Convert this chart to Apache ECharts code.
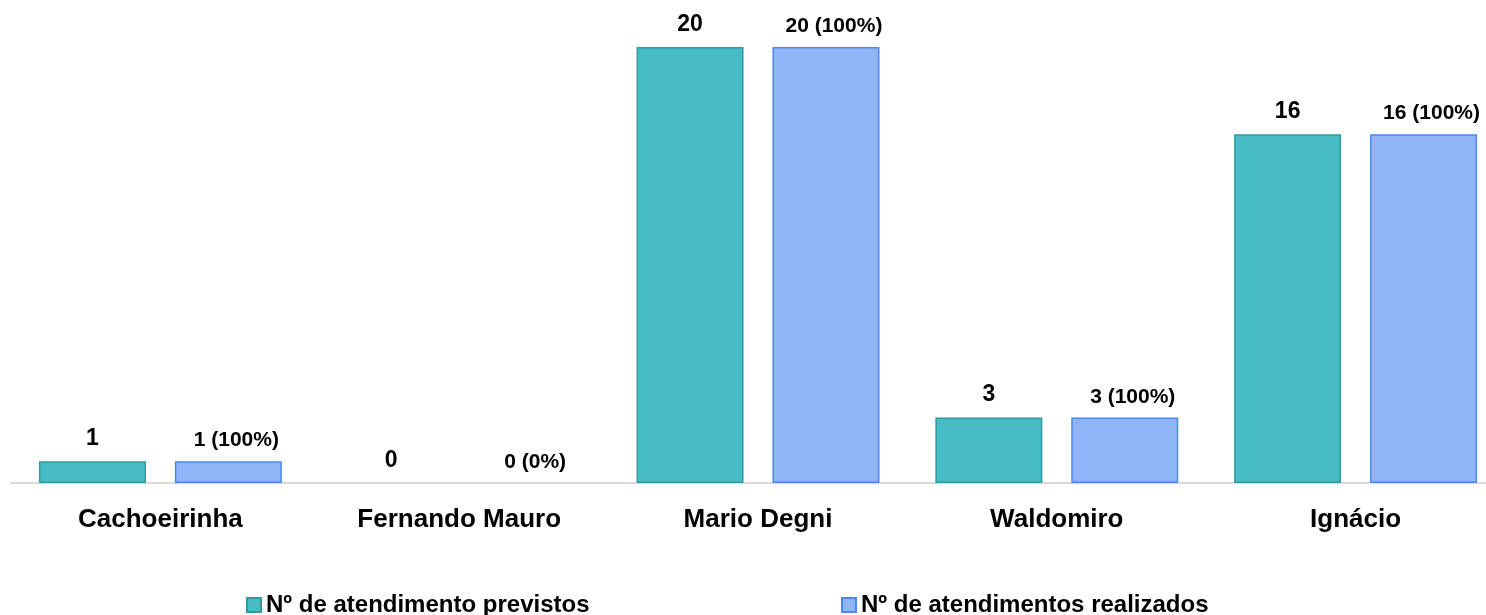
<!DOCTYPE html>
<html>
<head>
<meta charset="utf-8">
<script src="https://cdn.jsdelivr.net/npm/echarts@6/dist/echarts.min.js"></script>
<style>
html,body{margin:0;padding:0;background:#fff;overflow:hidden;width:1486px;height:615px;}
#chart{width:1506px;height:615px;}
</style>
</head>
<body>
<div id="chart"></div>
<script>
const categories = ['Cachoeirinha', 'Fernando Mauro', 'Mario Degni', 'Waldomiro', 'Ignácio'];
const previstos = [1, 0, 20, 3, 16];
const realizados = [1, 0, 20, 3, 16];
const realizadosPct = [100, 0, 100, 100, 100];
const seriesNames = ['Nº de atendimento previstos', 'Nº de atendimentos realizados'];

const FONT = '"Liberation Sans", Arial, sans-serif';
const tealFill = '#47BCC5', tealBorder = '#2F9A9F';
const blueFill = '#8FB5F8', blueBorder = '#4A88F0';

function toData(arr) {
  return arr.map(v => v === 0 ? { value: 0, itemStyle: { borderWidth: 0 } } : v);
}

const chart = echarts.init(document.getElementById('chart'), null, { renderer: 'canvas' });
chart.setOption({
  animation: false,
  backgroundColor: '#ffffff',
  textStyle: { fontFamily: FONT },
  grid: { left: 11, top: 47, right: 1, height: 436, containLabel: false },
  legend: [
    {
      data: [seriesNames[0]], left: 241, top: 588, itemWidth: 14, itemHeight: 14, icon: 'rect',
      textStyle: { fontFamily: FONT, fontSize: 24, fontWeight: 'bold', color: '#000' }
    },
    {
      data: [seriesNames[1]], left: 836, top: 588, itemWidth: 14, itemHeight: 14, icon: 'rect',
      textStyle: { fontFamily: FONT, fontSize: 24, fontWeight: 'bold', color: '#000' }
    }
  ],
  xAxis: {
    type: 'category',
    data: categories,
    axisLine: { show: true, lineStyle: { color: '#D9D9D9', width: 2 } },
    axisTick: { show: false },
    axisLabel: { margin: 24, fontFamily: FONT, fontSize: 26, fontWeight: 'bold', color: '#000' }
  },
  yAxis: {
    type: 'value', min: 0, max: 20, show: false,
    splitLine: { show: false }
  },
  series: [
    {
      name: seriesNames[0], type: 'bar', data: toData(previstos),
      barWidth: 107, barGap: '27%',
      itemStyle: { color: tealFill, borderColor: tealBorder, borderWidth: 1.5 },
      label: {
        show: true, position: 'top', distance: 11,
        fontFamily: FONT, fontSize: 23, fontWeight: 'bold', color: '#000',
        formatter: p => String(previstos[p.dataIndex])
      }
    },
    {
      name: seriesNames[1], type: 'bar', data: toData(realizados),
      barWidth: 107,
      itemStyle: { color: blueFill, borderColor: blueBorder, borderWidth: 1.5 },
      label: {
        show: true, position: 'top', distance: 10, offset: [8, 0],
        fontFamily: FONT, fontSize: 21, fontWeight: 'bold', color: '#000',
        formatter: p => realizados[p.dataIndex] + ' (' + realizadosPct[p.dataIndex] + '%)'
      }
    }
  ]
});
</script>
</body>
</html>
